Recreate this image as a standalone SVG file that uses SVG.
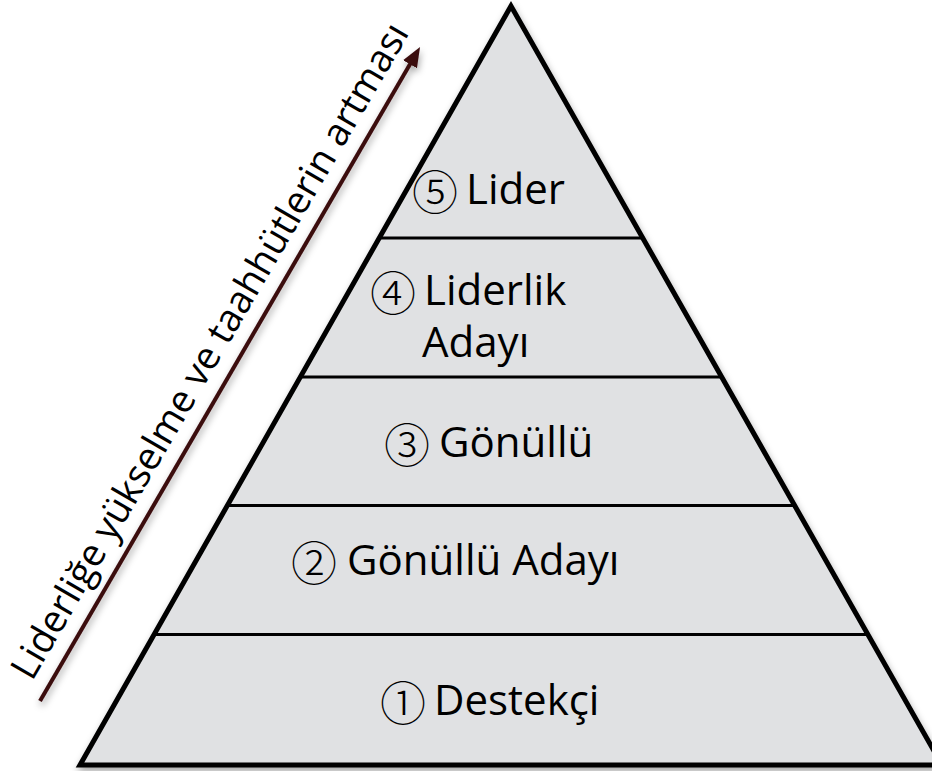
<svg xmlns="http://www.w3.org/2000/svg" width="932" height="771" viewBox="0 0 932 771">
  <style>
    .lbl { font-family: "Open Sans", "Noto Sans", sans-serif; font-size: 42px; fill: #000; }
    .num { font-family: "Noto Sans CJK JP", "DejaVu Sans", sans-serif; font-size: 46px; font-weight: 300; fill: #000; }
    .side { font-family: "Open Sans", "Noto Sans", sans-serif; font-size: 38px; fill: #000; }
    .tier { stroke: #000; stroke-width: 3; fill: none; }
  </style>
  <defs>
    <filter id="shadow" x="-10%" y="-10%" width="120%" height="120%">
      <feDropShadow dx="1" dy="4" stdDeviation="3.5" flood-color="#000" flood-opacity="0.35"/>
    </filter>
    <marker id="head" markerUnits="userSpaceOnUse" markerWidth="22" markerHeight="18" viewBox="0 0 22 18" refX="2" refY="9" orient="auto">
      <path d="M0,1 L20,9 L0,17 z" fill="#3a0a0c"/>
    </marker>
  </defs>
  <rect width="932" height="771" fill="#fff"/>
  <g id="pyramid">
    <polygon points="511,6 80,765 942,765" fill="#e0e1e3" stroke="#000" stroke-width="5" stroke-linejoin="miter" filter="url(#shadow)"/>
    <line class="tier" x1="379" y1="238" x2="643" y2="238"/>
    <line class="tier" x1="300" y1="377" x2="722" y2="377"/>
    <line class="tier" x1="227" y1="505.5" x2="795" y2="505.5"/>
    <line class="tier" x1="154" y1="634.5" x2="868" y2="634.5"/>
  </g>
  <g id="level5">
    <text class="num" x="412" y="209">⑤</text>
    <text class="lbl" x="466" y="204">Lider</text>
  </g>
  <g id="level4">
    <text class="num" x="370" y="310">④</text>
    <text class="lbl" x="424" y="305">Liderlik</text>
    <text class="lbl" x="422" y="357">Adayı</text>
  </g>
  <g id="level3">
    <text class="num" x="384" y="462">③</text>
    <text class="lbl" x="439" y="457">Gönüllü</text>
  </g>
  <g id="level2">
    <text class="num" x="291" y="580">②</text>
    <text class="lbl" x="347" y="575">Gönüllü Adayı</text>
  </g>
  <g id="level1">
    <text class="num" x="380" y="720">①</text>
    <text class="lbl" x="434" y="715">Destekçi</text>
  </g>
  <g id="connectors">
    <line x1="40" y1="701" x2="411" y2="62.5" stroke="#3a0a0c" stroke-width="4" marker-end="url(#head)" filter="url(#shadow)"/>
  </g>
  <g id="axis-label">
    <text class="side" transform="translate(32,682) rotate(-59.8)">Liderliğe yükselme ve taahhütlerin artması</text>
  </g>
</svg>
